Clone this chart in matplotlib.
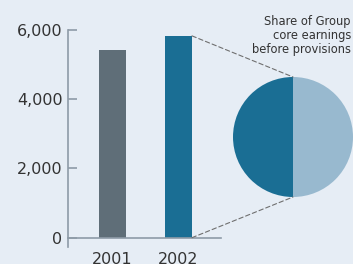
import matplotlib.pyplot as plt
from matplotlib.patches import ConnectionPatch

years = ["2001", "2002"]
earnings = [5420, 5830]
bar_colors = ["#5f6e78", "#1a6e94"]
yticks = [0, 2000, 4000, 6000]
share = [50, 50]
share_colors = ["#1a6e94", "#98b9cf"]
note = "Share of Group\ncore earnings\nbefore provisions"

bg = "#e6edf5"
axis_col = "#8e9ba7"
text_col = "#333333"

fig = plt.figure(figsize=(3.53, 2.64), dpi=100)
fig.patch.set_facecolor(bg)

# bar chart
ax = fig.add_axes([68 / 353, 17 / 264, 153 / 353, 217 / 264])
ax.set_facecolor(bg)
x = range(len(years))
ax.bar(x, earnings, width=0.41, color=bar_colors)
ax.set_xlim(-0.674, 1.644)
ax.set_ylim(-270, 6000)
ax.set_yticks(yticks)
ax.set_yticklabels([f"{v:,}" for v in yticks])
ax.set_xticks(list(x))
ax.set_xticklabels(years)
for s in ["top", "right"]:
    ax.spines[s].set_visible(False)
ax.spines["bottom"].set_position(("data", 0))
for s in ["left", "bottom"]:
    ax.spines[s].set_color(axis_col)
    ax.spines[s].set_linewidth(1.2)
ax.tick_params(axis="y", direction="in", length=6.5, width=1.2, color=axis_col,
               labelsize=11.5, labelcolor=text_col, pad=4)
ax.tick_params(axis="x", length=0, labelsize=11.5, labelcolor=text_col, pad=10)

# pie of share
pax = fig.add_axes([233 / 353, 67 / 264, 120 / 353, 120 / 264])
pax.pie(share, colors=share_colors, startangle=90, counterclock=True,
        radius=1, wedgeprops=dict(linewidth=0))
pax.set_xlim(-1, 1)
pax.set_ylim(-1, 1)
pax.set_aspect("equal")
pax.axis("off")

# dashed connectors from 2002 bar to pie
bar_right = 1 + 0.41 / 2
for ya, yb in [(earnings[1], 1), (0, -1)]:
    con = ConnectionPatch(xyA=(bar_right, ya), coordsA=ax.transData,
                          xyB=(0, yb), coordsB=pax.transData,
                          linestyle=(0, (4, 2.5)), color="#6f6f6f", linewidth=0.8)
    fig.add_artist(con)

fig.text(351 / 353, 1 - 15 / 264, note, ha="right", va="top", fontsize=8.3,
         color=text_col, linespacing=1.1)

fig.savefig("out.png", dpi=100, facecolor=bg)
